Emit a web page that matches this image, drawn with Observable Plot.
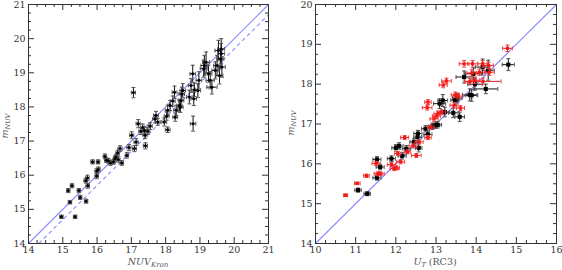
<!DOCTYPE html>
<html><head><meta charset="utf-8">
<script src="https://cdn.jsdelivr.net/npm/d3@7"></script>
<script src="https://cdn.jsdelivr.net/npm/@observablehq/plot@0.6"></script>
<style>body{margin:0;background:#fff}#c{display:flex;width:562px;height:270px}#c svg{display:block}</style>
</head><body><div id="c"></div>
<script>
// ---- Left panel: m_NUV vs NUV_Kron ----
const leftX  = [14.96,15.36,15.21,15.16,15.27,15.51,15.47,15.68,15.73,15.67,15.72,15.87,16.03,15.99,15.99,16.04,16.23,16.27,16.39,16.48,16.55,16.60,16.67,16.62,16.72,16.87,16.93,17.01,17.09,17.14,17.06,17.20,17.28,17.38,17.40,17.41,17.48,17.55,17.69,17.72,17.77,17.96,18.03,18.06,18.06,18.13,18.21,18.26,18.28,18.31,18.40,18.45,18.47,18.50,18.43,18.69,18.74,18.79,18.80,18.82,18.84,18.94,18.97,19.11,19.18,19.25,19.30,19.35,19.45,19.50,19.54,19.57,19.60,19.62,19.64,19.62,19.13,16.33,16.52,17.33];
const leftY  = [14.78,14.78,15.21,15.55,15.69,15.35,15.55,15.24,15.69,15.84,15.92,16.39,16.39,15.98,16.12,16.17,16.55,16.44,16.36,16.39,16.53,16.65,16.78,16.46,16.36,16.58,16.81,17.17,16.78,16.97,18.42,17.51,17.29,17.31,17.17,16.86,17.29,17.44,17.65,17.75,17.56,17.56,17.73,17.33,17.90,18.04,18.17,18.43,17.70,17.90,18.04,18.19,18.38,18.48,17.99,18.29,18.63,18.97,17.51,18.24,18.50,18.48,18.78,19.12,19.31,18.97,18.78,18.58,19.07,19.21,19.65,18.92,19.41,19.56,19.17,19.70,19.21,16.42,16.48,17.40];
const leftXErr = [0.05,0.05,0.05,0.05,0.05,0.05,0.05,0.05,0.05,0.05,0.05,0.05,0.05,0.05,0.05,0.05,0.05,0.05,0.05,0.05,0.05,0.05,0.06,0.05,0.05,0.05,0.06,0.06,0.06,0.06,0.06,0.06,0.06,0.06,0.06,0.06,0.06,0.06,0.07,0.07,0.07,0.07,0.07,0.07,0.07,0.07,0.07,0.07,0.07,0.07,0.08,0.08,0.08,0.08,0.08,0.08,0.08,0.08,0.08,0.08,0.08,0.08,0.08,0.10,0.10,0.10,0.12,0.15,0.10,0.10,0.10,0.10,0.10,0.10,0.10,0.10,0.10,0.05,0.05,0.06];
const leftYErr = [0.05,0.05,0.05,0.06,0.06,0.06,0.06,0.06,0.07,0.07,0.08,0.06,0.06,0.08,0.08,0.07,0.07,0.07,0.07,0.07,0.08,0.08,0.08,0.08,0.07,0.08,0.09,0.10,0.09,0.10,0.15,0.12,0.10,0.10,0.10,0.09,0.10,0.10,0.12,0.12,0.10,0.12,0.12,0.08,0.15,0.15,0.15,0.18,0.12,0.15,0.18,0.20,0.20,0.20,0.15,0.20,0.20,0.25,0.22,0.20,0.20,0.20,0.25,0.25,0.30,0.25,0.25,0.20,0.25,0.30,0.30,0.25,0.30,0.30,0.30,0.30,0.30,0.07,0.08,0.10];
const leftTicks = [14,15,16,17,18,19,20,21];
const leftOneToOne = [[14,14,21,21]];
const leftOffsetLine = [[14.3,14,21,20.7]];

// ---- Right panel: m_NUV vs U_T (RC3) ----
const blackX = [11.06,11.29,11.53,11.61,11.53,11.89,12.00,12.08,12.16,12.26,12.45,12.54,12.55,12.57,12.74,12.80,12.91,12.99,13.04,13.09,13.17,13.22,13.43,13.47,13.59,13.70,13.84,13.89,13.93,13.97,14.16,14.24,14.30,14.80,13.53];
const blackY = [15.34,15.25,16.11,15.92,15.65,16.13,16.40,16.45,16.20,16.38,16.55,16.67,16.76,16.40,16.88,16.74,16.94,16.97,16.98,17.51,17.59,17.30,17.28,17.60,17.18,18.18,17.73,17.72,18.26,18.00,18.43,17.88,18.35,18.49,17.65];
const blackXErr = [0.08,0.08,0.10,0.10,0.10,0.10,0.10,0.10,0.10,0.10,0.10,0.10,0.10,0.08,0.10,0.10,0.10,0.10,0.10,0.15,0.12,0.12,0.12,0.10,0.12,0.20,0.18,0.15,0.20,0.18,0.18,0.30,0.15,0.15,0.12];
const blackYErr = [0.05,0.05,0.07,0.07,0.06,0.07,0.08,0.08,0.08,0.08,0.08,0.08,0.08,0.10,0.08,0.08,0.08,0.08,0.08,0.12,0.15,0.12,0.12,0.12,0.12,0.15,0.15,0.15,0.15,0.15,0.20,0.12,0.25,0.15,0.12];
const redX = [10.75,11.04,11.27,11.51,11.61,11.56,11.89,11.96,12.01,12.12,12.05,12.22,12.29,12.43,12.51,12.58,12.78,12.80,12.80,12.87,12.95,13.01,13.05,13.14,13.18,13.26,13.45,13.48,13.55,13.61,13.70,13.91,13.89,13.84,13.97,14.17,14.16,14.31,14.33,14.78,14.08];
const redY = [15.21,15.51,15.70,16.01,15.75,15.75,15.98,15.88,15.90,16.05,16.26,16.66,16.30,16.45,16.21,16.55,17.41,17.55,16.66,16.92,17.13,17.20,17.26,17.30,17.98,18.08,17.47,17.73,17.70,17.40,18.51,18.51,18.28,18.06,18.10,18.07,18.51,18.47,18.30,18.90,18.30];
const redXErr = [0.05,0.07,0.07,0.10,0.10,0.10,0.10,0.10,0.08,0.10,0.08,0.10,0.08,0.10,0.12,0.10,0.12,0.08,0.08,0.08,0.10,0.10,0.10,0.10,0.10,0.12,0.10,0.10,0.10,0.10,0.12,0.12,0.12,0.12,0.12,0.45,0.12,0.12,0.12,0.12,0.15];
const redYErr = [0.03,0.03,0.04,0.05,0.05,0.05,0.05,0.05,0.05,0.05,0.05,0.05,0.05,0.05,0.05,0.05,0.06,0.06,0.05,0.05,0.06,0.06,0.06,0.06,0.07,0.07,0.07,0.07,0.07,0.06,0.08,0.08,0.08,0.08,0.08,0.08,0.08,0.08,0.08,0.08,0.08];
const rightXTicks = [10,11,12,13,14,15,16];
const rightYTicks = [14,15,16,17,18,19,20];
const rightOneToOne = [[10,14,16,20]];

const pts = (xs, ys, xe, ye) => xs.map((x, i) => ({x, y: ys[i], ex: xe[i], ey: ye[i]}));
const leftData = pts(leftX, leftY, leftXErr, leftYErr);
const blackData = pts(blackX, blackY, blackXErr, blackYErr);
const redData = pts(redX, redY, redXErr, redYErr);

// custom cap symbols (pixel sized)
const capH = {draw(ctx, size) { const r = Math.sqrt(size / Math.PI); ctx.moveTo(-r, 0); ctx.lineTo(r, 0); }};
const capV = {draw(ctx, size) { const r = Math.sqrt(size / Math.PI); ctx.moveTo(0, -r); ctx.lineTo(0, r); }};

function errMarks(data, color, capColor) {
  return [
    Plot.ruleX(data, {x: "x", y1: d => d.y - d.ey, y2: d => d.y + d.ey, stroke: color, strokeWidth: 1}),
    Plot.ruleY(data, {y: "y", x1: d => d.x - d.ex, x2: d => d.x + d.ex, stroke: color, strokeWidth: 1}),
    Plot.dot(data, {x: "x", y: d => d.y - d.ey, symbol: capH, r: 2, stroke: capColor, strokeWidth: 1}),
    Plot.dot(data, {x: "x", y: d => d.y + d.ey, symbol: capH, r: 2, stroke: capColor, strokeWidth: 1}),
    Plot.dot(data, {x: d => d.x - d.ex, y: "y", symbol: capV, r: 2, stroke: capColor, strokeWidth: 1}),
    Plot.dot(data, {x: d => d.x + d.ex, y: "y", symbol: capV, r: 2, stroke: capColor, strokeWidth: 1})
  ];
}

function frameTicks(xMajor, yMajor, xDom, yDom, innerW, innerH) {
  const xMinor = d3.range(xDom[0], xDom[1] + 1e-9, 0.25).filter(v => !xMajor.includes(v));
  const yMinor = d3.range(yDom[0], yDom[1] + 1e-9, 0.25).filter(v => !yMajor.includes(v));
  const c = "#333";
  return [
    Plot.tickX(xMajor, {x: d => d, insetTop: innerH - 6, stroke: c}),
    Plot.tickX(xMajor, {x: d => d, insetBottom: innerH - 6, stroke: c}),
    Plot.tickX(xMinor, {x: d => d, insetTop: innerH - 3, stroke: c}),
    Plot.tickX(xMinor, {x: d => d, insetBottom: innerH - 3, stroke: c}),
    Plot.tickY(yMajor, {y: d => d, insetRight: innerW - 6, stroke: c}),
    Plot.tickY(yMajor, {y: d => d, insetLeft: innerW - 6, stroke: c}),
    Plot.tickY(yMinor, {y: d => d, insetRight: innerW - 3, stroke: c}),
    Plot.tickY(yMinor, {y: d => d, insetLeft: innerW - 3, stroke: c}),
    Plot.axisX(xMajor, {tickSize: 0, tickPadding: 3, fill: "#333", label: null}),
    Plot.axisY(yMajor, {tickSize: 0, tickPadding: 3, fill: "#333", label: null}),
    Plot.frame({stroke: "#333", strokeWidth: 1})
  ];
}

const style = {fontFamily: "DejaVu Serif", fontSize: "9.5px", background: "#fff", overflow: "visible"};
const lineBlue = "#8a8aff";
const diag = (data, extra = {}) => Plot.link(data, {x1: d => d[0], y1: d => d[1], x2: d => d[2], y2: d => d[3], stroke: lineBlue, strokeWidth: 1.1, ...extra});

// Left (inner 240 x 239 so the 1:1 line is not an exact 45° pixel diagonal)
const L = {w: 281, h: 270, ml: 28, mr: 13, mt: 4, mb: 27};
const leftPlot = Plot.plot({
  width: L.w, height: L.h, marginLeft: L.ml, marginRight: L.mr, marginTop: L.mt, marginBottom: L.mb,
  style,
  x: {domain: [14, 21], axis: null},
  y: {domain: [14, 21], axis: null},
  marks: [
    diag(leftOneToOne),
    diag(leftOffsetLine, {strokeDasharray: "4,3"}),
    ...errMarks(leftData, "#111", "#555"),
    Plot.dot(leftData, {x: "x", y: "y", r: 1.5, fill: "#000"}),
    ...frameTicks(leftTicks, leftTicks, [14, 21], [14, 21], L.w - L.ml - L.mr, L.h - L.mt - L.mb)
  ]
});

// Right
const R = {w: 281, h: 270, ml: 34, mr: 6, mt: 4, mb: 27};
const rightPlot = Plot.plot({
  width: R.w, height: R.h, marginLeft: R.ml, marginRight: R.mr, marginTop: R.mt, marginBottom: R.mb,
  style,
  x: {domain: [10, 16], axis: null},
  y: {domain: [14, 20], axis: null},
  marks: [
    diag(rightOneToOne),
    ...errMarks(blackData, "#111", "#555"),
    Plot.dot(blackData, {x: "x", y: "y", symbol: "square", r: 2.3, fill: "#000"}),
    ...errMarks(redData, "#f01818", "#f04040"),
    Plot.dot(redData, {x: "x", y: "y", symbol: "square", r: 1.8, fill: "#f01818"}),
    ...frameTicks(rightXTicks, rightYTicks, [10, 16], [14, 20], R.w - R.ml - R.mr, R.h - R.mt - R.mb)
  ]
});

const c = document.getElementById("c");
c.appendChild(leftPlot);
c.appendChild(rightPlot);

// axis titles with subscripts
function title(svg, tx, ty, rot, parts) {
  const t = d3.select(svg).append("text")
    .attr("transform", `translate(${tx},${ty})` + (rot ? ` rotate(${rot})` : ""))
    .attr("text-anchor", "middle").attr("fill", "#555")
    .attr("font-family", "DejaVu Serif");
  parts.forEach(p => {
    t.append("tspan").text(p.t).attr("font-style", p.it ? "italic" : "normal")
      .attr("font-size", p.s).attr("dy", p.dy || 0);
  });
}
title(leftPlot, 148, 265, 0, [{t: "NUV", it: true, s: 9.5}, {t: "Kron", it: true, s: 7, dy: 2}]);
title(leftPlot, 8, 126, -90, [{t: "m", it: true, s: 9.5}, {t: "NUV", it: true, s: 6.5, dy: 2}]);
title(rightPlot, 154, 265, 0, [{t: "U", it: true, s: 9.5}, {t: "T", it: true, s: 6.5, dy: 2}, {t: " (RC3)", s: 9.5, dy: -2}]);
title(rightPlot, 13, 123, -90, [{t: "m", it: true, s: 9.5}, {t: "NUV", it: true, s: 6.5, dy: 2}]);
</script></body></html>
